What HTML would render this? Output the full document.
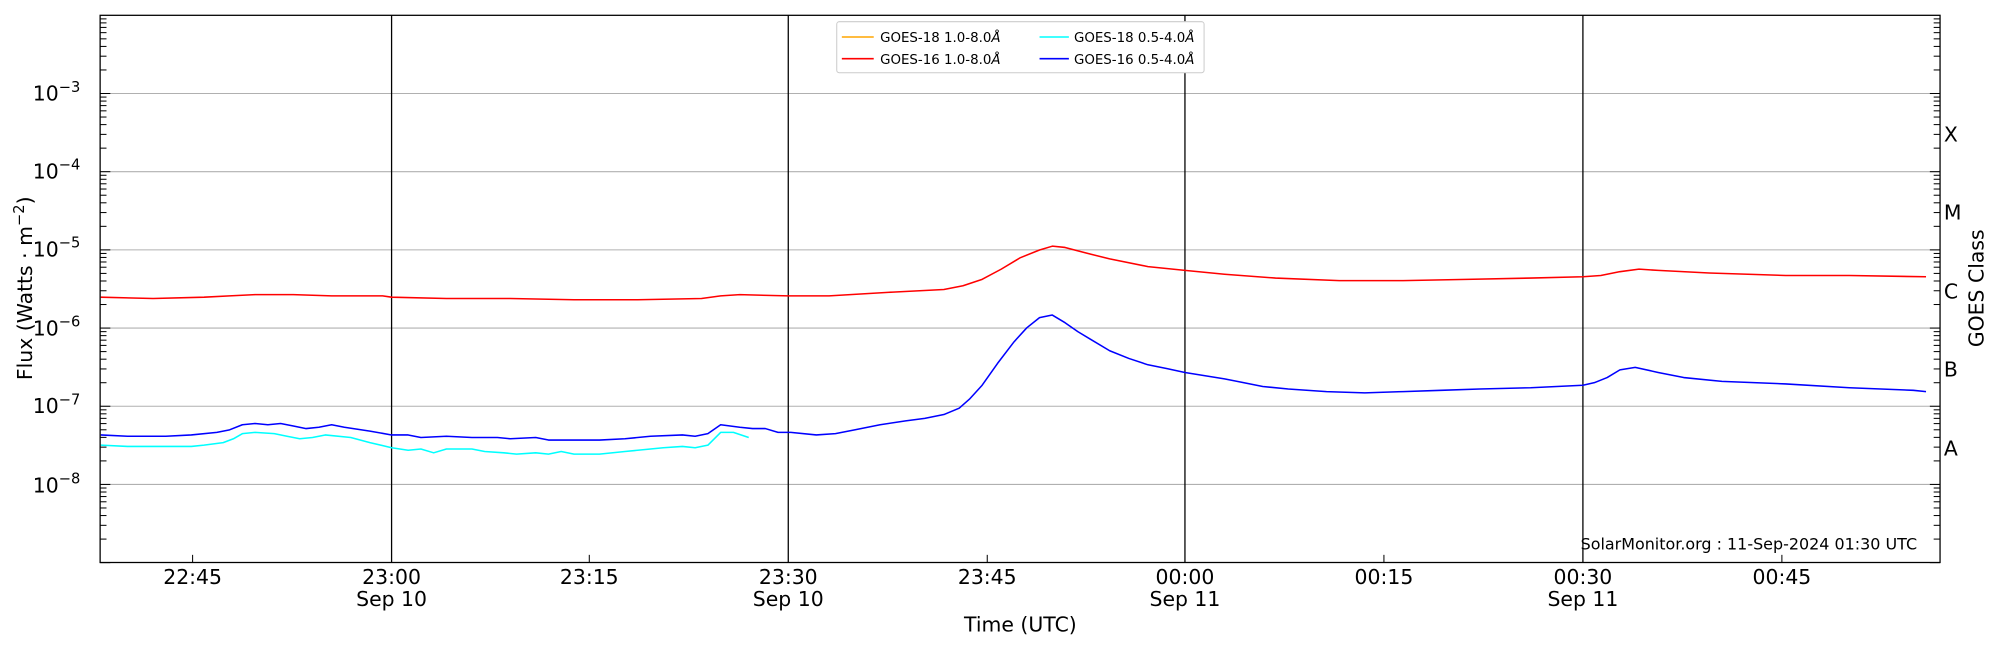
<!DOCTYPE html>
<html><head><meta charset="utf-8"><style>
html,body{margin:0;padding:0;background:#fff;}
svg{display:block;font-family:"DejaVu Sans","Liberation Sans",sans-serif;}
</style></head><body>
<svg id="s" width="2000" height="650" viewBox="0 0 1568 509.6" xmlns="http://www.w3.org/2000/svg">
<rect x="0" y="0" width="1568" height="509.6" fill="#fff"/>
<g id="grid" stroke="#b0b0b0" stroke-width="0.8"></g>
<g id="vl" stroke="#000" stroke-width="1"></g>
<g id="ticks" stroke="#000" stroke-width="0.8"></g>
<g fill="none" stroke-width="1.2" stroke-linejoin="round">
<polyline id="red" stroke="#ff0000"/>
<polyline id="blue" stroke="#0000ff"/>
<polyline id="cyan" stroke="#00ffff"/>
</g>
<rect x="78.5" y="12" width="1442.5" height="429" fill="none" stroke="#000" stroke-width="1"/>
<g font-size="16" text-anchor="end" fill="#000">
<text x="63" y="79">10<tspan dy="-7" font-size="11.5">−3</tspan></text>
<text x="63" y="140">10<tspan dy="-7" font-size="11.5">−4</tspan></text>
<text x="63" y="201">10<tspan dy="-7" font-size="11.5">−5</tspan></text>
<text x="63" y="263">10<tspan dy="-7" font-size="11.5">−6</tspan></text>
<text x="63" y="324">10<tspan dy="-7" font-size="11.5">−7</tspan></text>
<text x="63" y="386">10<tspan dy="-7" font-size="11.5">−8</tspan></text>
</g>
<g font-size="16" fill="#000">
<text x="1524" y="111">X</text>
<text x="1524" y="172">M</text>
<text x="1524" y="234">C</text>
<text x="1524" y="295">B</text>
<text x="1524" y="357">A</text>
</g>
<g font-size="16" text-anchor="middle" fill="#000">
<text x="151" y="458">22:45</text>
<text x="307" y="458">23:00</text><text x="307" y="475">Sep 10</text>
<text x="462" y="458">23:15</text>
<text x="618" y="458">23:30</text><text x="618" y="475">Sep 10</text>
<text x="774" y="458">23:45</text>
<text x="929" y="458">00:00</text><text x="929" y="475">Sep 11</text>
<text x="1085" y="458">00:15</text>
<text x="1241" y="458">00:30</text><text x="1241" y="475">Sep 11</text>
<text x="1397" y="458">00:45</text>
<text x="800" y="495">Time (UTC)</text>
<text transform="translate(25,226) rotate(-90)">Flux (Watts · m<tspan dy="-6" font-size="11.5">−2</tspan><tspan dy="6">)</tspan></text>
<text transform="translate(1555,226) rotate(-90)">GOES Class</text>
</g>
<text x="1503" y="431" font-size="12.5" text-anchor="end" fill="#000">SolarMonitor.org : 11-Sep-2024 01:30 UTC</text>
<rect x="656" y="17" width="288" height="40" rx="2" fill="#fff" stroke="#ccc" stroke-width="0.8"/>
<g stroke-width="1.2">
<line x1="660" y1="29" x2="685" y2="29" stroke="#ffa500"/>
<line x1="660" y1="46" x2="685" y2="46" stroke="#ff0000"/>
<line x1="815" y1="29" x2="838" y2="29" stroke="#00ffff"/>
<line x1="815" y1="46" x2="838" y2="46" stroke="#0000ff"/>
</g>
<g font-size="10.5" fill="#000">
<text x="690" y="33">GOES-18 1.0-8.0<tspan font-style="italic">Å</tspan></text>
<text x="690" y="50">GOES-16 1.0-8.0<tspan font-style="italic">Å</tspan></text>
<text x="842" y="33">GOES-18 0.5-4.0<tspan font-style="italic">Å</tspan></text>
<text x="842" y="50">GOES-16 0.5-4.0<tspan font-style="italic">Å</tspan></text>
</g>
</svg>
<script>
var NS="http://www.w3.org/2000/svg";
function ln(g,x1,y1,x2,y2){var l=document.createElementNS(NS,"line");l.setAttribute("x1",x1);l.setAttribute("y1",y1);l.setAttribute("x2",x2);l.setAttribute("y2",y2);document.getElementById(g).appendChild(l);}
var top0=12,dec=61.3,L=78.5,R=1521,B=441;
for(var k=1;k<=6;k++){var y=top0+dec*k;ln("grid",L,y,R,y);}
[307,618,929,1241].forEach(function(x){ln("vl",x,top0,x,B);});
for(var k=0;k<7;k++){var base=top0+dec*(k+1);
 for(var m=1;m<10;m++){var y=base-dec*Math.log10(m);if(y<top0)continue;var len=m==1?8:5;
  ln("ticks",L,y,L+len,y);ln("ticks",R,y,R-len,y);}}
[151,462,774,1085,1397].forEach(function(x){ln("ticks",x,B,x,B-6);});
document.getElementById("red").setAttribute("points","79,233 120,234 160,233 180,232 200,231 230,231 260,232 300,232 307,233 350,234 400,234 450,235 500,235 550,234 565,232 580,231 618,232 650,232 700,229 740,227 755,224 770,219 785,211 800,202 815,196 825,193 835,194 850,198 870,203 900,209 929,212 960,215 1000,218 1050,220 1100,220 1150,219 1200,218 1241,217 1255,216 1270,213 1285,211 1300,212 1340,214 1400,216 1450,216 1510,217");
document.getElementById("blue").setAttribute("points","79,341 100,342 130,342 150,341 170,339 180,337 190,333 200,332 210,333 220,332 230,334 240,336 250,335 260,333 270,335 290,338 307,341 320,341 330,343 350,342 370,343 390,343 400,344 420,343 430,345 450,345 470,345 490,344 510,342 535,341 545,342 555,340 565,333 580,335 590,336 600,336 610,339 620,339 640,341 655,340 670,337 690,333 710,330 725,328 740,325 752,320 760,313 770,302 782,285 795,268 805,257 815,249 825,247 835,253 845,260 855,266 870,275 885,281 900,286 915,289 929,292 960,297 990,303 1010,305 1040,307 1070,308 1100,307 1130,306 1160,305 1200,304 1241,302 1250,300 1260,296 1270,290 1282,288 1300,292 1320,296 1350,299 1400,301 1450,304 1500,306 1510,307");
document.getElementById("cyan").setAttribute("points","79,349 100,350 130,350 150,350 160,349 175,347 183,344 190,340 200,339 215,340 225,342 235,344 245,343 255,341 275,343 290,347 307,351 320,353 330,352 340,355 350,352 370,352 380,354 395,355 405,356 420,355 430,356 440,354 450,356 470,356 490,354 510,352 520,351 535,350 545,351 555,349 565,339 575,339 587,343");
</script>
</body></html>
